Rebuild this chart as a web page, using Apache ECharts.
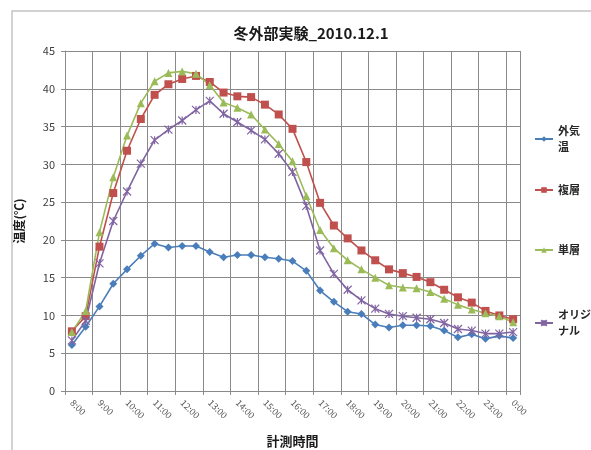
<!DOCTYPE html>
<html>
<head>
<meta charset="utf-8">
<script src="https://cdn.jsdelivr.net/npm/echarts@6/dist/echarts.min.js"></script>
<style>
  html, body { margin: 0; padding: 0; background: #ffffff; }
  #chart { width: 591px; height: 450px; }
</style>
</head>
<body>
<div id="chart"></div>
<script>
// Measurement times, every 30 minutes from 8:00 to 0:00
const times = [
  '8:00', '8:30', '9:00', '9:30', '10:00', '10:30', '11:00', '11:30',
  '12:00', '12:30', '13:00', '13:30', '14:00', '14:30', '15:00', '15:30',
  '16:00', '16:30', '17:00', '17:30', '18:00', '18:30', '19:00', '19:30',
  '20:00', '20:30', '21:00', '21:30', '22:00', '22:30', '23:00', '23:30', '0:00'
];

// Temperatures (°C)
const outsideAir = [6.1, 8.5, 11.2, 14.2, 16.1, 17.9, 19.5, 19.0, 19.2, 19.2, 18.4, 17.7, 18.0, 18.0, 17.7, 17.5,
  17.2, 15.9, 13.3, 11.8, 10.5, 10.2, 8.8, 8.4, 8.7, 8.7, 8.6, 8.0, 7.1, 7.5, 6.9, 7.3, 7.0];
const multiLayer = [7.9, 9.9, 19.1, 26.2, 31.8, 36.0, 39.2, 40.6, 41.3, 41.7, 40.9, 39.5, 39.0, 38.9, 37.9, 36.6,
  34.7, 30.3, 24.9, 21.9, 20.2, 18.6, 17.3, 16.1, 15.6, 15.1, 14.4, 13.4, 12.4, 11.7, 10.6, 10.0, 9.5];
const singleLayer = [7.8, 10.6, 21.0, 28.3, 33.8, 38.1, 41.0, 42.1, 42.3, 42.0, 40.5, 38.2, 37.5, 36.6, 34.6, 32.7,
  30.4, 25.8, 21.3, 18.9, 17.3, 16.1, 15.0, 14.0, 13.7, 13.6, 13.1, 12.2, 11.4, 10.8, 10.3, 9.9, 9.1];
const original = [6.7, 9.3, 16.9, 22.5, 26.4, 30.1, 33.2, 34.6, 35.8, 37.2, 38.4, 36.7, 35.6, 34.5, 33.3, 31.4,
  29.0, 24.5, 18.6, 15.5, 13.4, 12.0, 10.9, 10.2, 9.9, 9.7, 9.5, 9.0, 8.2, 8.0, 7.6, 7.6, 7.8];

const seriesNames = ['外気温', '複層', '単層', 'オリジナル'];
const legendLabels = { '外気温': '外気\n温', '複層': '複層', '単層': '単層', 'オリジナル': 'オリジ\nナル' };

const FONT = '"Noto Sans CJK JP", "Noto Sans", sans-serif';
const GRID_COLOR = '#8a8a8a';

const starPath = 'path://M0,0L10,10M10,0L0,10M5,0L5,10';

function lineSeries(name, data, color, symbol, size, extra) {
  return Object.assign({
    name: name,
    type: 'line',
    data: data,
    symbol: symbol,
    symbolSize: size,
    showAllSymbol: true,
    lineStyle: { color: color, width: 1.6 },
    itemStyle: { color: color },
    emphasis: { disabled: true },
    z: 3
  }, extra || {});
}

function legendAt(name, top) {
  return {
    data: [name],
    orient: 'vertical',
    left: 529,
    top: top,
    itemWidth: 18,
    itemHeight: 7,
    itemGap: 4,
    selectedMode: false,
    formatter: n => legendLabels[n],
    textStyle: { fontFamily: FONT, fontSize: 11, fontWeight: 'bold', color: '#262626', lineHeight: 16 }
  };
}

const chart = echarts.init(document.getElementById('chart'), null, { renderer: 'canvas' });

chart.setOption({
  backgroundColor: '#ffffff',
  animation: false,
  graphic: [{
    type: 'rect',
    shape: { x: 12, y: 11, width: 700, height: 700 },
    style: { fill: 'none', stroke: '#c4c4c4', lineWidth: 1.5 },
    silent: true
  }],
  title: {
    text: '冬外部実験_2010.12.1',
    left: 306,
    textAlign: 'center',
    top: 21,
    textStyle: { fontFamily: FONT, fontSize: 15, fontWeight: 'bold', color: '#1a1a1a' }
  },
  legend: [
    legendAt('外気温', 118),
    legendAt('複層', 177),
    legendAt('単層', 237),
    legendAt('オリジナル', 302)
  ],
  grid: { left: 65, right: 71, top: 51, bottom: 59, containLabel: false, outerBoundsMode: 'none' },
  xAxis: {
    type: 'category',
    data: times,
    boundaryGap: true,
    name: '計測時間',
    nameLocation: 'middle',
    nameGap: 44,
    nameTextStyle: { fontFamily: FONT, fontSize: 13, fontWeight: 'bold', color: '#1a1a1a' },
    axisLine: { lineStyle: { color: GRID_COLOR, width: 1 } },
    axisTick: { show: true, interval: 1, length: 4, lineStyle: { color: GRID_COLOR } },
    axisLabel: {
      interval: 1,
      rotate: -45,
      margin: 10,
      fontFamily: FONT,
      fontSize: 9,
      color: '#595959'
    },
    splitLine: { show: true, interval: 1, lineStyle: { color: GRID_COLOR, width: 1 } }
  },
  yAxis: {
    type: 'value',
    min: 0,
    max: 45,
    interval: 5,
    name: '温度(℃)',
    nameLocation: 'middle',
    nameRotate: 90,
    nameGap: 40,
    nameTextStyle: { fontFamily: FONT, fontSize: 12, fontWeight: 'bold', color: '#1a1a1a' },
    axisLine: { show: true, lineStyle: { color: GRID_COLOR, width: 1 } },
    axisTick: { show: true, length: 4, lineStyle: { color: GRID_COLOR } },
    axisLabel: { fontFamily: FONT, fontSize: 11, color: '#404040', margin: 10 },
    splitLine: { show: true, lineStyle: { color: GRID_COLOR, width: 1 } }
  },
  series: [
    lineSeries(seriesNames[0], outsideAir, '#4a7ebb', 'diamond', 8),
    lineSeries(seriesNames[1], multiLayer, '#c0504d', 'rect', 8),
    lineSeries(seriesNames[2], singleLayer, '#9bbb59', 'triangle', 8),
    lineSeries(seriesNames[3], original, '#8064a2', starPath, 8, {
      itemStyle: { color: '#8064a2', borderColor: '#8064a2', borderWidth: 1.2 }
    })
  ]
});
</script>
</body>
</html>
